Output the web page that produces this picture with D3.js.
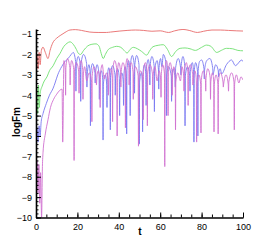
<!DOCTYPE html>
<html>
<head>
<meta charset="utf-8">
<script src="https://cdn.jsdelivr.net/npm/d3@7"></script>
<style>
  body { margin: 0; background: #fff; }
  svg { display: block; }
  .tick text { font-family: "Liberation Sans", Arial, sans-serif; font-size: 9px; }
</style>
</head>
<body>
<div id="chart"></div>
<script>
"use strict";

// values, [t, logFm]
var redData = [
  [0,-2.8],[0.5,-2.0],[1,-2.7],[1.5,-1.9],[2,-2.5],[2.6,-1.8],[3.4,-1.64],[4.5,-1.9],
  [5.8,-2.2],[6.8,-1.8],[8,-1.45],[10,-1.2],[12,-1.05],[14,-0.92],[16.4,-0.8],[19,-0.78],
  [22,-0.82],[26,-0.9],[30,-0.92],[34,-0.92],[36,-0.9],[40.5,-0.85],[44,-0.82],[48,-0.8],
  [52,-0.82],[56,-0.86],[60,-0.84],[64,-0.92],[67,-0.84],[71,-0.77],[74,-0.82],[78,-0.92],
  [81,-0.86],[85,-0.8],[89,-0.8],[93,-0.82],[97,-0.84],[100,-0.85]
];

var greenData = [
  [0,-5.0],[0.4,-3.6],[0.8,-4.9],[1.2,-3.5],[1.6,-4.6],[2,-3.9],[3,-3.55],[4,-3.3],
  [5.3,-3.1],[6.5,-2.8],[8.3,-2.55],[10,-2.2],[11.6,-1.95],[13.5,-1.6],[15,-1.45],
  [16.4,-1.38],[18,-1.5],[19.5,-1.75],[20.5,-1.95],[21.5,-2.0],[23,-1.8],[25,-1.58],
  [27,-1.5],[29,-1.48],[30.5,-1.6],[31.5,-1.95],[32.5,-2.2],[33.5,-2.0],[35,-1.75],
  [37,-1.65],[39,-1.6],[41,-1.65],[43,-1.85],[44,-1.93],[45.5,-1.75],[47,-1.65],
  [49,-1.72],[51,-1.85],[53.5,-2.03],[55,-1.8],[56.5,-1.62],[59,-1.55],[61.5,-1.52],
  [63.5,-1.75],[65.5,-2.1],[67.5,-1.85],[69.6,-1.7],[72,-1.68],[74.4,-1.72],[77,-1.8],
  [80,-1.65],[82.4,-1.54],[84.5,-1.6],[87.3,-1.9],[89.5,-1.8],[92,-1.7],[95,-1.72],
  [97.5,-1.8],[100,-1.82]
];

var blueData = [
  [0,-6.6],[0.5,-5.6],[1,-6.3],[1.5,-5.5],[2,-6.0],[2.5,-5.3],[3.4,-4.9],[5,-4.4],
  [6.5,-4.0],[8.3,-3.65],[9.2,-3.4],[10.5,-3.0],[12.4,-2.6],[14,-2.35],[15.5,-2.2],
  [17,-2.0],[18,-1.9],[19.15,-2.35],[19.3,-3.8],[19.45,-2.55],[20.4,-2.1],[21.45,-2.55],
  [21.6,-4.3],[21.75,-2.45],[23,-2.0],[24.45,-2.45],[24.6,-3.6],[24.75,-2.95],[25.6,-2.5],
  [26.15,-2.95],[26.3,-5.5],[26.45,-2.9],[27.3,-2.45],[28.45,-2.9],[28.6,-3.4],[28.75,-2.95],
  [29.5,-2.5],[30.45,-2.95],[30.6,-4.2],[30.75,-3.25],[31.6,-2.8],[32.25,-3.25],[32.4,-6.2],
  [32.55,-3.45],[33.4,-3.0],[34.15,-3.45],[34.3,-4.6],[34.45,-3.1],[35.2,-2.65],[35.75,-3.1],
  [35.9,-5.7],[36.05,-3.0],[37,-2.55],[38.15,-3.0],[38.3,-4.0],[38.45,-3.15],[39.4,-2.7],
  [40.25,-3.15],[40.4,-5.0],[40.55,-3.35],[41.5,-2.9],[42.15,-3.35],[42.3,-4.5],[42.45,-3.05],
  [43,-2.6],[43.65,-3.05],[43.8,-5.9],[43.95,-2.75],[44.7,-2.3],[45.35,-2.75],[45.5,-5.0],
  [45.65,-2.5],[46.5,-2.05],[47.45,-2.5],[47.6,-3.9],[47.75,-2.5],[48.6,-2.05],[49.75,-2.5],
  [49.9,-6.4],[50.05,-3.35],[50.9,-2.9],[51.35,-3.35],[51.5,-5.8],[51.65,-2.95],[52.4,-2.5],
  [53.05,-2.95],[53.2,-4.5],[53.35,-2.7],[54.2,-2.25],[54.85,-2.7],[55,-3.5],[55.15,-2.55],
  [56,-2.1],[57.05,-2.55],[57.2,-4.8],[57.35,-2.75],[58.5,-2.3],[59.15,-2.75],[59.3,-3.7],
  [59.45,-2.65],[60.2,-2.2],[60.8,-2.6],[61.5,-2.0],[62.85,-2.45],[63,-5.0],[63.15,-3.05],
  [64,-2.6],[65.35,-3.05],[65.5,-4.3],[65.65,-3.15],[66.3,-2.7],[67.15,-3.15],[67.3,-3.6],
  [67.45,-2.65],[68.7,-2.2],[69.85,-2.65],[70,-3.0],[70.15,-2.55],[71,-2.1],[71.85,-2.55],
  [72,-5.5],[72.15,-3.05],[73.2,-2.6],[74.25,-3.05],[74.4,-3.8],[74.55,-2.85],[75.5,-2.4],
  [76.15,-2.85],[76.3,-6.3],[76.45,-2.85],[77.1,-2.4],[78.05,-2.85],[78.2,-6.0],[78.35,-2.8],
  [79,-2.35],[80,-2.27],[81.15,-2.7],[81.3,-3.2],[81.45,-2.75],[82.5,-2.3],[84,-2.2],
  [85.35,-2.65],[85.5,-3.0],[85.65,-2.95],[86.8,-2.5],[88.05,-2.8],[88.2,-3.1],[88.35,-2.85],
  [89,-2.7],[89.7,-2.95],[92,-2.5],[94.5,-2.27],[96.3,-2.55],[99.4,-2.27],[100,-2.35]
];

var magentaData = [
  [0,-8],[0.5,-7.2],[1,-8.8],[1.4,-7.4],[1.8,-9.3],[2.2,-7.8],[2.7,-10],[3.1,-7.5],
  [3.4,-6.8],[4.5,-5.9],[5.8,-5.2],[7,-4.6],[8.5,-4.2],[10,-3.95],[11.6,-3.75],
  [12.6,-3.7],[12.9,-6.3],[13.5,-2.3],[14.15,-2.75],[14.3,-4.0],[14.45,-2.65],[15.2,-2.2],
  [16.35,-2.65],[16.5,-3.5],[16.65,-2.75],[17.2,-2.3],[18.25,-2.75],[18.4,-7.2],[18.55,-2.85],
  [19.5,-2.4],[20.65,-2.85],[20.8,-3.9],[20.95,-2.75],[21.8,-2.3],[22.55,-2.75],[22.7,-4.2],
  [22.85,-3.05],[23.5,-2.6],[24.5,-3.3],[25.7,-2.9],[26.85,-3.35],[27,-5.3],[27.15,-3.05],
  [28,-2.6],[29.05,-3.05],[29.2,-3.5],[29.35,-3.25],[30,-2.8],[30.85,-3.25],[31,-4.6],
  [31.15,-2.95],[32,-2.5],[33,-3.2],[34,-2.9],[34.85,-3.35],[35,-4.0],[35.15,-3.15],
  [35.9,-2.7],[36.85,-3.15],[37,-5.3],[37.15,-2.75],[38,-2.3],[39.05,-2.75],[39.2,-6.0],
  [39.35,-2.85],[40,-2.4],[40.85,-2.85],[41,-3.6],[41.15,-2.85],[42,-2.4],[43.05,-2.85],
  [43.2,-5.6],[43.35,-2.65],[44,-2.2],[44.85,-2.65],[45,-3.5],[45.15,-2.85],[46,-2.4],
  [46.85,-2.85],[47,-4.2],[47.15,-3.05],[48,-2.6],[49.35,-3.05],[49.5,-6.5],[49.65,-3.25],
  [50.5,-2.8],[51.65,-3.25],[51.8,-5.2],[51.95,-2.85],[52.8,-2.4],[53.65,-2.85],[53.8,-5.5],
  [53.95,-2.95],[55,-2.5],[56.25,-2.95],[56.4,-4.2],[56.55,-3.05],[57.5,-2.6],[58.5,-3.3],
  [59.5,-2.8],[60.25,-3.25],[60.4,-4.1],[60.55,-2.95],[61.2,-2.5],[62.05,-2.95],[62.2,-7.5],
  [62.35,-2.75],[63,-2.3],[63.65,-2.75],[63.8,-5.0],[63.95,-2.85],[64.8,-2.4],[65.65,-2.85],
  [65.8,-4.0],[65.95,-3.05],[66.6,-2.6],[67.25,-3.05],[67.4,-5.7],[67.55,-3.35],[68.5,-2.9],
  [69.8,-3.3],[70.5,-2.6],[71.35,-3.05],[71.5,-3.8],[71.65,-2.85],[72.6,-2.4],[73.35,-2.85],
  [73.5,-4.5],[73.65,-2.95],[74.5,-2.5],[75.65,-2.95],[75.8,-3.5],[75.95,-3.25],[76.8,-2.8],
  [77.45,-3.25],[77.6,-6.3],[77.75,-3.45],[78.7,-3.0],[79.55,-3.45],[79.7,-5.85],[79.85,-3.25],
  [80.8,-2.8],[81.85,-3.25],[82,-3.8],[82.15,-3.15],[83,-2.7],[84.15,-3.15],[84.3,-4.2],
  [84.45,-3.35],[85.3,-2.9],[85.85,-3.35],[86,-5.8],[86.15,-3.45],[87,-3.0],[87.85,-3.45],
  [88,-5.9],[88.15,-3.35],[89,-2.9],[90.35,-3.35],[90.5,-3.6],[90.65,-3.45],[91.8,-3.0],
  [92.85,-3.45],[93,-3.8],[93.15,-3.35],[94.5,-2.9],[95.65,-3.35],[95.8,-5.7],[95.95,-3.45],
  [96.8,-3.0],[98,-3.4],[99,-3.1],[100,-3.25]
];

var series = [
  { name: "F1", values: redData,     color: "#e86a6a" },
  { name: "F2", values: greenData,   color: "#6ee06e" },
  { name: "F3", values: blueData,    color: "#7878f2" },
  { name: "F4", values: magentaData, color: "#d070d0" }
];

var xTicks = [0, 20, 40, 60, 80, 100];
var yTicks = [-1, -2, -3, -4, -5, -6, -7, -8, -9, -10];

var width = 277, height = 246;
var margin = { left: 36, right: 34, top: 29, bottom: 28.5 };

var svg = d3.select("#chart").append("svg")
  .attr("width", width)
  .attr("height", height);

var x = d3.scaleLinear().domain([0, 100]).range([margin.left, width - margin.right]);
var y = d3.scaleLinear().domain([-10, -0.75]).range([height - margin.bottom, margin.top]);

var line = d3.line()
  .curve(d3.curveMonotoneX)
  .x(function(d) { return x(d[0]); })
  .y(function(d) { return y(d[1]); });

var plot = svg.append("g");
plot.append("clipPath").attr("id", "clip")
  .append("rect")
  .attr("x", x(0)).attr("y", y(-0.75))
  .attr("width", x(100) - x(0)).attr("height", y(-10) - y(-0.75));

plot.selectAll(".line")
  .data(series)
  .enter().append("path")
  .attr("class", "line")
  .attr("clip-path", "url(#clip)")
  .attr("fill", "none")
  .attr("stroke", function(d) { return d.color; })
  .attr("stroke-width", 0.9)
  .attr("d", function(d) { return line(d.values); });

// minor ticks
var xMinor = d3.range(0, 100.01, 5);
var yMinor = d3.range(-10, -0.79, 0.2);

svg.append("g")
  .attr("transform", "translate(0," + y(-10) + ")")
  .call(d3.axisBottom(x).tickValues(xMinor).tickSize(-3).tickFormat(""))
  .call(function(g) { g.select(".domain").remove(); });

svg.append("g")
  .attr("transform", "translate(" + x(0) + ",0)")
  .call(d3.axisLeft(y).tickValues(yMinor).tickSize(-2.5).tickFormat(""))
  .call(function(g) { g.select(".domain").remove(); });

// major ticks + labels
var xAxis = svg.append("g")
  .attr("transform", "translate(0," + y(-10) + ")")
  .call(d3.axisBottom(x).tickValues(xTicks).tickSizeInner(-5).tickSizeOuter(0).tickPadding(4));
xAxis.selectAll(".tick text").attr("dy", "0.9em").attr("fill", "#000");

var yAxis = svg.append("g")
  .attr("transform", "translate(" + x(0) + ",0)")
  .call(d3.axisLeft(y).tickValues(yTicks).tickSizeInner(-5).tickSizeOuter(0).tickPadding(4));
yAxis.selectAll(".tick text").attr("fill", "#000");

svg.selectAll(".domain").attr("stroke", "#000").attr("stroke-width", 1.6);
svg.selectAll(".tick line").attr("stroke", "#000").attr("stroke-width", 1);

// axis titles
svg.append("text")
  .attr("x", 140).attr("y", 235)
  .attr("text-anchor", "middle")
  .style("font", "bold 10px 'Liberation Sans', Arial, sans-serif")
  .text("t");

svg.append("text")
  .attr("transform", "translate(20,122) rotate(-90)")
  .attr("text-anchor", "middle")
  .style("font", "bold 10px 'Liberation Sans', Arial, sans-serif")
  .text("logFm");
</script>
</body>
</html>
